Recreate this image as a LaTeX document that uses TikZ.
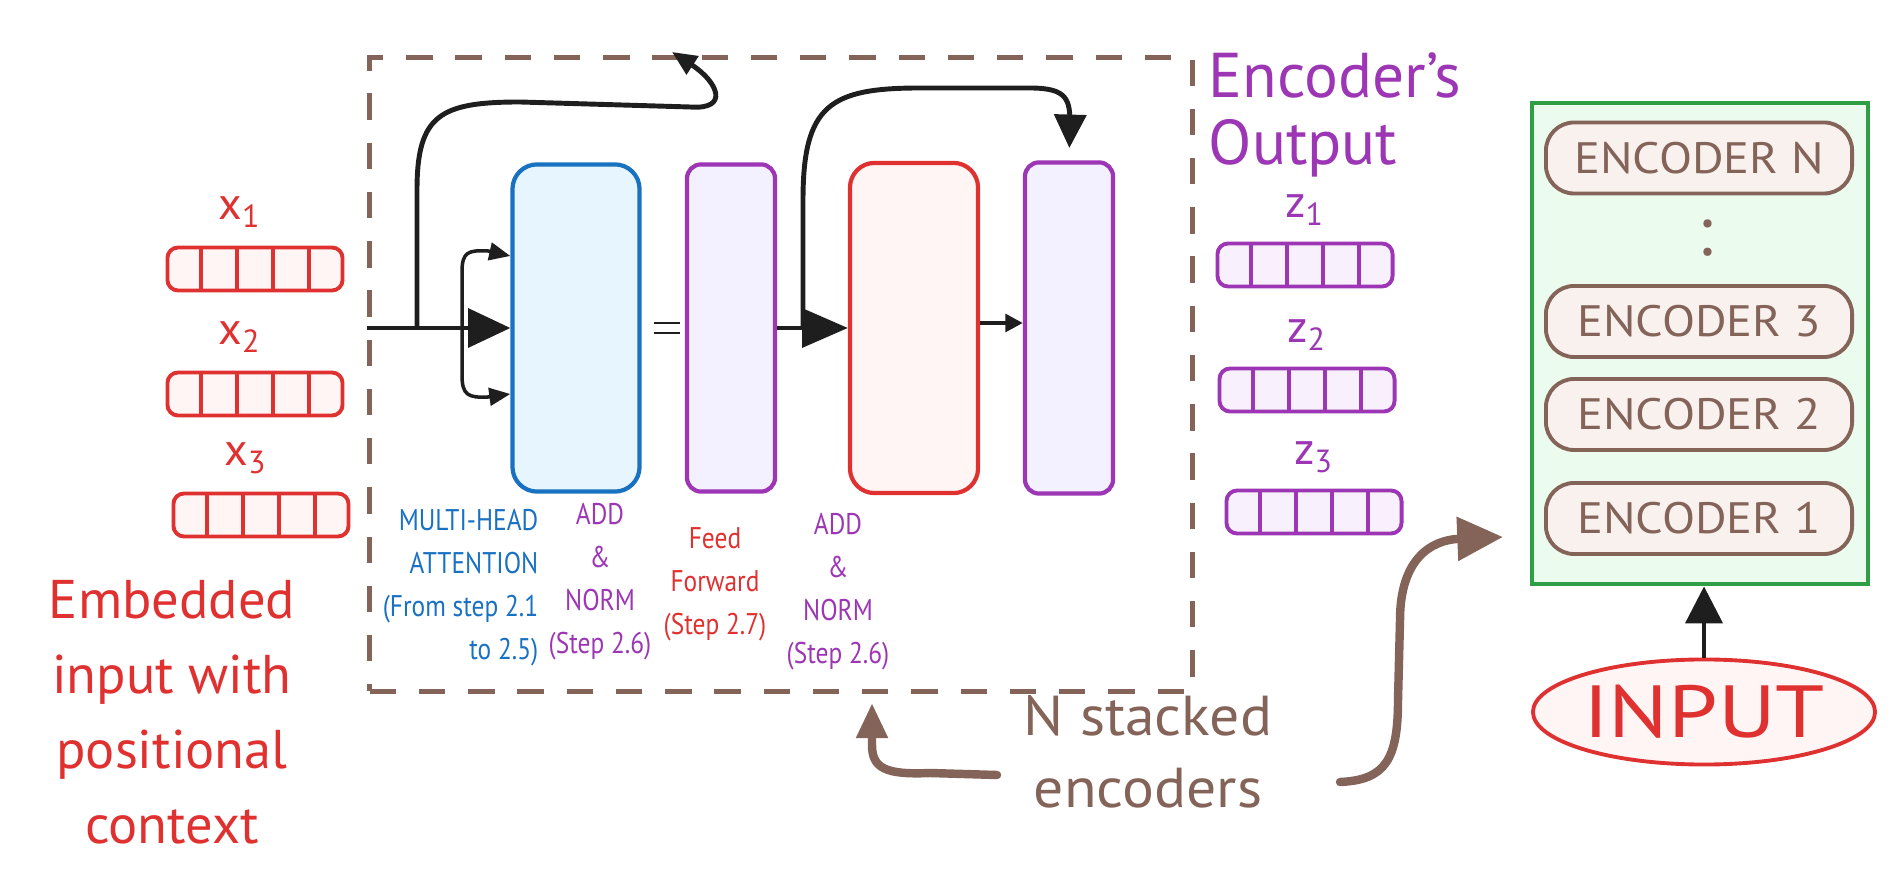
\documentclass[tikz,border=0pt]{standalone}
\usepackage{fontspec}
\setmainfont{PT Sans}
\usetikzlibrary{arrows.meta,calc,positioning,shapes.geometric}
\definecolor{inkred}{HTML}{E03131}
\definecolor{inkblue}{HTML}{1971C2}
\definecolor{inkviolet}{HTML}{9C36B5}
\definecolor{inkgreen}{HTML}{2F9E44}
\definecolor{inkbrown}{HTML}{846358}
\definecolor{inkblack}{HTML}{1E1E1E}
\definecolor{fillred}{HTML}{FFF5F5}
\definecolor{fillblue}{HTML}{E7F5FF}
\definecolor{fillviolet}{HTML}{F3F0FF}
\definecolor{fillgrape}{HTML}{F8F0FC}
\definecolor{fillgreen}{HTML}{EBFBEE}
\definecolor{fillbrown}{HTML}{F8F1EE}

\begin{document}
\begin{tikzpicture}[x=0.01cm, y=-0.01cm,
    block/.style={draw, line width=1.2pt, rounded corners=7pt, inner sep=0pt},
    vec/.style={draw, line width=1.1pt, rounded corners=3pt, minimum width=1.75cm, minimum height=0.43cm, inner sep=0pt},
    link/.style={draw=inkblack, line width=1.2pt},
    res/.style={draw=inkblack, line width=1.4pt},
    brownline/.style={draw=inkbrown, line width=2.4pt, line cap=round},
    note/.style={inner sep=0pt, font=\fontsize{8.5}{12.2}\selectfont\addfontfeatures{FakeStretch=0.85}},
    vlabel/.style={inner sep=0pt, font=\fontsize{13}{13}\selectfont},
    encbox/.style={draw=inkbrown, fill=fillbrown, line width=1.1pt, rounded corners=8pt, minimum width=3.06cm, minimum height=0.71cm, text=inkbrown, font=\fontsize{12.5}{12.5}\selectfont\addfontfeatures{FakeStretch=1.1}}]
    \useasboundingbox (0,0) rectangle (1901,895);

    % Dashed frame around one encoder
    \node[draw=inkbrown, line width=1.4pt, dash pattern=on 7.5pt off 6.5pt, minimum width=8.22cm, minimum height=6.33cm, inner sep=0pt] (stack) at (781,374.5) {};

    % Sub-layers of the encoder
    \node[block, draw=inkblue, fill=fillblue, minimum width=1.27cm, minimum height=3.27cm] (mha) at (576,328) {};
    \node[block, draw=inkviolet, fill=fillviolet, rounded corners=4pt, minimum width=0.88cm, minimum height=3.27cm] (an1) at (731,328) {};
    \node[block, draw=inkred, fill=fillred, minimum width=1.28cm, minimum height=3.3cm] (ff) at (914,328) {};
    \node[block, draw=inkviolet, fill=fillviolet, rounded corners=4pt, minimum width=0.88cm, minimum height=3.31cm] (an2) at (1069,328) {};

    % Sub-layer captions
    \node[note, text=inkblue, align=right, anchor=north east] (mhalbl) at (539,509) {MULTI-HEAD\\ATTENTION\\(From step 2.1\\to 2.5)};
    \node[note, text=inkviolet, align=center, anchor=north] (an1lbl) at (600,503) {ADD\\\&\\NORM\\(Step 2.6)};
    \node[note, text=inkred, align=center, anchor=north] (fflbl) at (715,527) {Feed\\Forward\\(Step 2.7)};
    \node[note, text=inkviolet, align=center, anchor=north] (an2lbl) at (838,513) {ADD\\\&\\NORM\\(Step 2.6)};

    % Embedded input vectors
    \foreach \i/\xx/\yy in {1/255/269, 2/255/394, 3/261/515} {
        \node[vec, draw=inkred, fill=fillred] (x\i) at (\xx,\yy) {};
        \node[vlabel, text=inkred, above=0.17cm of x\i, xshift=-0.15cm] (xl\i) {x\textsubscript{\i}};
        \foreach \k in {1,...,4}
            \draw[inkred, line width=1.1pt] ($(x\i.south west)!\k/5!(x\i.south east)$) -- ($(x\i.north west)!\k/5!(x\i.north east)$);
    }

    % Output vectors
    \foreach \i/\xx/\yy in {1/1305/265, 2/1307/390, 3/1314/512} {
        \node[vec, draw=inkviolet, fill=fillgrape] (z\i) at (\xx,\yy) {};
        \node[vlabel, text=inkviolet, above=0.15cm of z\i] (zl\i) {z\textsubscript{\i}};
        \foreach \k in {1,...,4}
            \draw[inkviolet, line width=1.1pt] ($(z\i.south west)!\k/5!(z\i.south east)$) -- ($(z\i.north west)!\k/5!(z\i.north east)$);
    }

    % Main path through the encoder
    \coordinate (in) at (stack.west |- mha.west);
    \draw[link, -{Triangle[length=12pt,width=11pt]}] (in) -- (mha.west);
    \coordinate (br) at (462,328);
    \draw[link, line width=1pt, -{Triangle[length=6pt,width=5pt]}] (br) -- (462,272) .. controls (462,252) and (468,250) .. (488,251) -- ($(mha.west)+(0,-72)$);
    \draw[link, line width=1pt, -{Triangle[length=6pt,width=5pt]}] (br) -- (462,375) .. controls (462,395) and (468,398) .. (488,397) -- ($(mha.west)+(0,66)$);
    \draw[inkblack, double, double distance=2pt, line width=0.7pt, shorten <=3.4pt, shorten >=1.4pt] (mha.east) -- (an1.west);
    \draw[link, -{Triangle[length=13pt,width=11pt]}] (an1.east) -- (ff.west);
    \draw[link, -{Triangle[length=5pt,width=5pt]}] ($(ff.east)+(0,-5)$) -- ($(an2.west)+(0,-5)$);

    % Residual connections
    \coordinate (r1a) at (417,328);
    \coordinate (r1b) at (672,52);
    \draw[res, -{Triangle[length=7pt,width=6pt]}] (r1a) -- (417,190) .. controls (417,115) and (440,102) .. (520,102) -- (690,107) .. controls (730,110) and (718,82) .. (r1b);
    \coordinate (r2a) at (803,328);
    \draw[res, shorten >=3.5pt, -{Triangle[length=9.5pt,width=9pt]}] (r2a) -- (803,200) .. controls (803,105) and (830,88) .. (920,88) -- (1030,88) .. controls (1068,88) and (1070,100) .. (1070,125) -- (an2.north);

    % Captions
    \node[text=inkred, align=center, font=\fontsize{15.5}{21.3}\selectfont] (emb) at (172,712) {Embedded\\input with\\positional\\context};
    \node[text=inkviolet, align=left, anchor=north west, inner sep=0pt, font=\fontsize{18}{19}\selectfont] (outlbl) at (1208,52) {Encoder's\\Output};
    \node[text=inkbrown, align=center, anchor=north, inner sep=0pt, font=\fontsize{16}{20.5}\selectfont\addfontfeatures{FakeStretch=1.06}] (nstack) at (1148,695) {N stacked\\encoders};

    % Stack of encoders
    \node[draw=inkgreen, fill=fillgreen, line width=1.3pt, minimum width=3.36cm, minimum height=4.81cm, inner sep=0pt] (encs) at (1700,343.5) {};
    \node[encbox] (encN) at (1699,158) {ENCODER N};
    \node[text=inkbrown, font=\fontsize{20}{20}\selectfont] (dots) at (1705,238) {:};
    \node[encbox] (enc3) at (1699,321.5) {ENCODER 3};
    \node[encbox] (enc2) at (1699,414.5) {ENCODER 2};
    \node[encbox] (enc1) at (1699,518.5) {ENCODER 1};
    \node[ellipse, draw=inkred, fill=fillred, line width=1.1pt, minimum width=3.35cm, minimum height=1.05cm, inner sep=0pt, text=inkred, font=\fontsize{21}{21}\selectfont\addfontfeatures{FakeStretch=1.2}] (input) at (1704,712) {INPUT};
    \draw[link, -{Triangle[length=10.5pt,width=10.5pt]}] (input.north) -- (input.north |- encs.south);

    % Pointers from the caption
    \coordinate (nl) at (997,775);
    \coordinate (nltip) at (872,703);
    \draw[brownline, -{Triangle[length=10pt,width=8.5pt]}] (nl) -- (930,773) .. controls (885,775) and (872,768) .. (872,745) -- (nltip);
    \coordinate (nr) at (1340,782);
    \coordinate (nrtip) at (1503,537);
    \draw[brownline, -{Triangle[length=13pt,width=12pt]}] (nr) .. controls (1385,780) and (1398,760) .. (1398,700) -- (1400,620) .. controls (1400,560) and (1430,540) .. (nrtip);
\end{tikzpicture}
\end{document}
